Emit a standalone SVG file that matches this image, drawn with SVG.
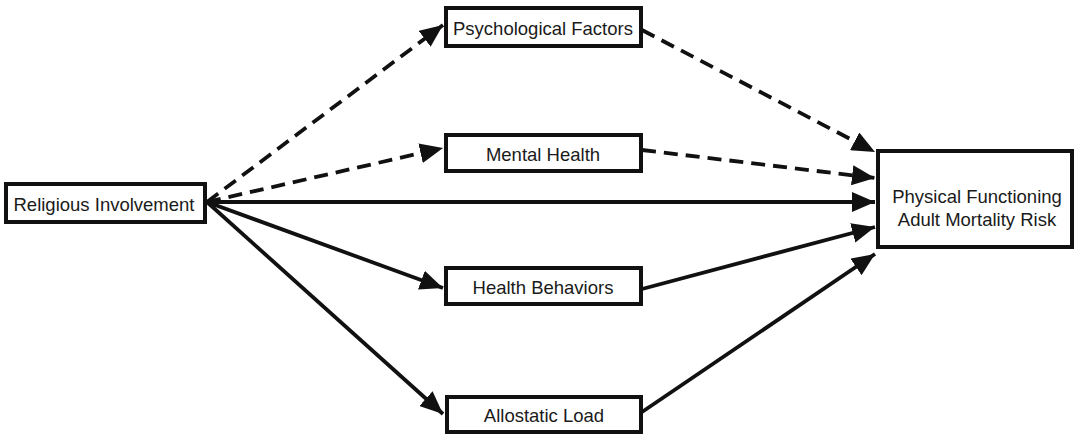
<svg xmlns="http://www.w3.org/2000/svg" width="1074" height="435" viewBox="0 0 1074 435">
  <style>
    .box { fill: #fff; stroke: #111; stroke-width: 4; }
    .lbl { font-family: "Liberation Sans", Arial, sans-serif; font-size: 18.5px; fill: #1a1a1a; text-anchor: middle; dominant-baseline: central; }
    .edge { fill: none; stroke: #111; stroke-width: 3.8; marker-end: url(#head); }
    .dash { stroke-dasharray: 14 8; }
  </style>
  <defs>
    <marker id="head" markerUnits="userSpaceOnUse" markerWidth="25" markerHeight="20" refX="23" refY="10" orient="auto">
      <path d="M0,0 L23,10 L0,20 Z" fill="#111"/>
    </marker>
  </defs>

  <g id="connectors">
    <!-- from Religious Involvement -->
    <line class="edge dash" x1="207" y1="202" x2="443" y2="25"/>
    <line class="edge dash" x1="207" y1="202" x2="443" y2="148"/>
    <line class="edge" x1="207" y1="202" x2="875" y2="202"/>
    <line class="edge" x1="207" y1="202" x2="443" y2="288"/>
    <line class="edge" x1="207" y1="202" x2="443" y2="414"/>
    <!-- into Physical Functioning / Adult Mortality Risk -->
    <line class="edge dash" x1="642" y1="30" x2="875" y2="152"/>
    <line class="edge dash" x1="642" y1="150" x2="875" y2="178"/>
    <line class="edge" x1="642" y1="289" x2="875" y2="227"/>
    <line class="edge" x1="642" y1="412" x2="875" y2="254"/>
  </g>

  <g id="religious-involvement">
    <rect class="box" x="6" y="184" width="199" height="38"/>
    <text class="lbl" x="104" y="204">Religious Involvement</text>
  </g>
  <g id="psychological-factors">
    <rect class="box" x="446" y="8" width="195" height="38"/>
    <text class="lbl" x="543" y="28">Psychological Factors</text>
  </g>
  <g id="mental-health">
    <rect class="box" x="446" y="135" width="195" height="36"/>
    <text class="lbl" x="543" y="154">Mental Health</text>
  </g>
  <g id="health-behaviors">
    <rect class="box" x="446" y="268" width="195" height="36"/>
    <text class="lbl" x="543" y="287">Health Behaviors</text>
  </g>
  <g id="allostatic-load">
    <rect class="box" x="447" y="397" width="194" height="35"/>
    <text class="lbl" x="544" y="415">Allostatic Load</text>
  </g>
  <g id="outcome">
    <rect class="box" x="878" y="151" width="194" height="96"/>
    <text class="lbl" x="977" y="196">Physical Functioning</text>
    <text class="lbl" x="977" y="219">Adult Mortality Risk</text>
  </g>
</svg>
